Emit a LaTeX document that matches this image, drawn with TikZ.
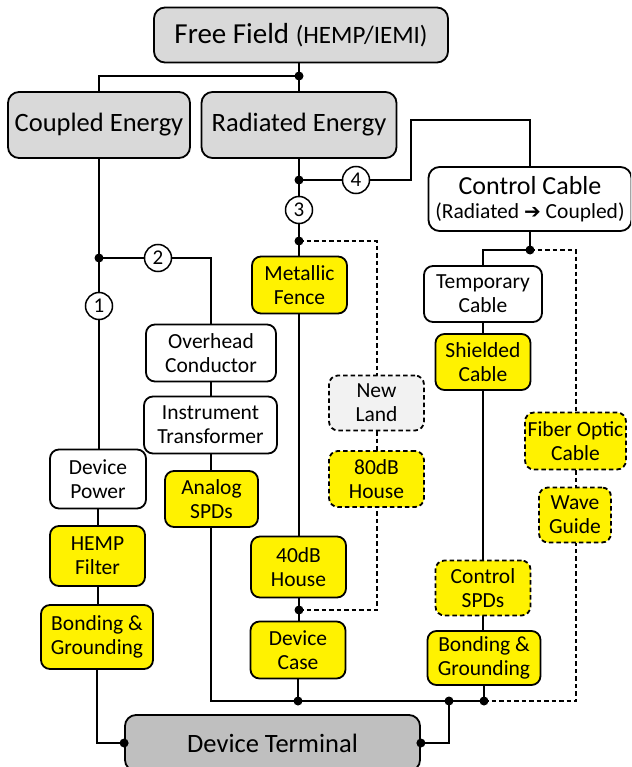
\documentclass[tikz,border=0pt]{standalone}
\usepackage{fontspec}
\setmainfont{Carlito}
\newfontfamily\arrowfont{DejaVu Sans}
\usepackage{tikz}

\tikzset{
  box/.style={draw, line width=1.8pt, rounded corners=9pt, align=center, inner sep=1pt,
    font=\fontsize{21.5}{24}\selectfont},
  bigbox/.style={box, fill=gray!30, rounded corners=11pt, font=\fontsize{26.5}{30}\selectfont},
  wbox/.style={box, fill=white},
  ybox/.style={box, fill=yellow},
  dbox/.style={ybox, dash pattern=on 4.5pt off 3pt},
  num/.style={circle, draw, line width=1.5pt, fill=white, minimum size=27pt, inner sep=0pt,
    font=\fontsize{21}{21}\selectfont},
  wire/.style={line width=1.5pt},
  dwire/.style={wire, dash pattern=on 4.5pt off 3pt}
}

\begin{document}
\begin{tikzpicture}[x=1pt,y=-1pt]
\useasboundingbox (0,0) rectangle (631,767);
\clip (0,0) rectangle (631,767);

\coordinate (j0) at (299,76);
\coordinate (j1) at (99,258);
\coordinate (j3) at (299,180);
\coordinate (j4) at (299,241);
\coordinate (j5) at (299,610);
\coordinate (j6) at (298,701);
\coordinate (j7) at (449,701);
\coordinate (j8) at (484,701);
\coordinate (j9) at (530,250);
\coordinate (b4) at (411,120);

\draw[wire] (j0) -- (299,60);
\draw[wire] (j0) -| (99,92);
\draw[wire] (j0) -- (299,92);
\draw[wire] (99,158) -- (99,450);
\draw[wire] (j1) -| (211,325);
\draw[wire] (299,158) -- (299,256);
\draw[wire] (j3) -| (b4) -| (530,167);
\draw[dwire] (j4) -| (377,376);
\draw[wire] (299,313) -- (299,650);
\draw[dwire] (j5) -| (377,507);
\draw[dwire] (377,431) -- (377,451);
\draw[wire] (211,380) -- (211,701) -- (j8);
\draw[wire] (j6) -- (298,678);
\draw[wire] (98,500) -- (98,610);
\draw[wire] (97,669) |- (125,743);
\draw[wire] (420,743) -| (j7);
\draw[wire] (530,231) -- (j9) -| (483,266);
\draw[wire] (483,322) -- (483,631);
\draw[wire] (484,685) -- (j8);
\draw[dwire] (j9) -| (576,413);
\draw[dwire] (576,470) -- (576,488);
\draw[dwire] (j8) -| (576,543);

\node[bigbox, minimum width=294pt, minimum height=55pt] (free) at (301,35)
  {\fontsize{29}{32}\selectfont Free Field \fontsize{25}{30}\selectfont(HEMP/IEMI)};
\node[bigbox, minimum width=182pt, minimum height=66pt] (coupled) at (99,125) {Coupled Energy};
\node[bigbox, minimum width=195pt, minimum height=66pt] (radiated) at (299,125) {Radiated Energy};
\node[wbox, minimum width=203pt, minimum height=64pt, rounded corners=11pt] (control) at (530,199)
  {{\fontsize{26}{30}\selectfont Control Cable}\\(Radiated {\arrowfont\fontsize{20}{20}\selectfont ➔} Coupled)};

\node[num] (n1) at (99,306) {1};
\node[num] (n2) at (158,258) {2};
\node[num] (n3) at (299,210) {3};
\node[num] (n4) at (356,180) {4};

\node[wbox, minimum width=130pt, minimum height=57pt] (overhead) at (211,353) {Overhead\\Conductor};
\node[wbox, minimum width=133pt, minimum height=57pt] (instr) at (210.5,425) {Instrument\\Transformer};
\node[ybox, minimum width=93pt, minimum height=56pt] (analog) at (211.5,499) {Analog\\SPDs};
\node[wbox, minimum width=96pt, minimum height=59pt] (devpower) at (98,479) {Device\\Power};
\node[ybox, minimum width=95pt, minimum height=60pt] (hemp) at (97.5,556) {HEMP\\Filter};
\node[ybox, minimum width=112pt, minimum height=64pt] (bondL) at (97,637) {Bonding \&\\Grounding};

\node[ybox, minimum width=95pt, minimum height=57pt] (fence) at (299.5,285) {Metallic\\Fence};
\node[ybox, minimum width=95pt, minimum height=61pt] (house40) at (298.5,567) {40dB\\House};
\node[ybox, minimum width=95pt, minimum height=57pt] (case) at (298,650) {Device\\Case};
\node[dbox, fill=gray!10, minimum width=95pt, minimum height=55pt] (newland) at (376.5,403) {New\\Land};
\node[dbox, minimum width=95pt, minimum height=56pt] (house80) at (376.5,479) {80dB\\House};

\node[wbox, minimum width=118pt, minimum height=56pt] (tempcable) at (483,294) {Temporary\\Cable};
\node[ybox, minimum width=95pt, minimum height=56pt] (shielded) at (483,362) {Shielded\\Cable};
\node[dbox, minimum width=95pt, minimum height=55pt] (ctrlspd) at (483,588) {Control\\SPDs};
\node[ybox, minimum width=113pt, minimum height=54pt] (bondR) at (484,658) {Bonding \&\\Grounding};
\node[dbox, minimum width=101pt, minimum height=57pt] (fiber) at (575.5,441) {Fiber Optic\\Cable};
\node[dbox, minimum width=72pt, minimum height=55pt] (wave) at (575,515) {Wave\\Guide};

\node[bigbox, fill=gray!50, minimum width=295pt, minimum height=56pt] (terminal) at (272.5,743) {Device Terminal};

\foreach \p in {j0,j1,j3,j4,j5,j6,j7,j8,j9,terminal.west,terminal.east}
  \fill (\p) circle (4.5pt);
\end{tikzpicture}
\end{document}
